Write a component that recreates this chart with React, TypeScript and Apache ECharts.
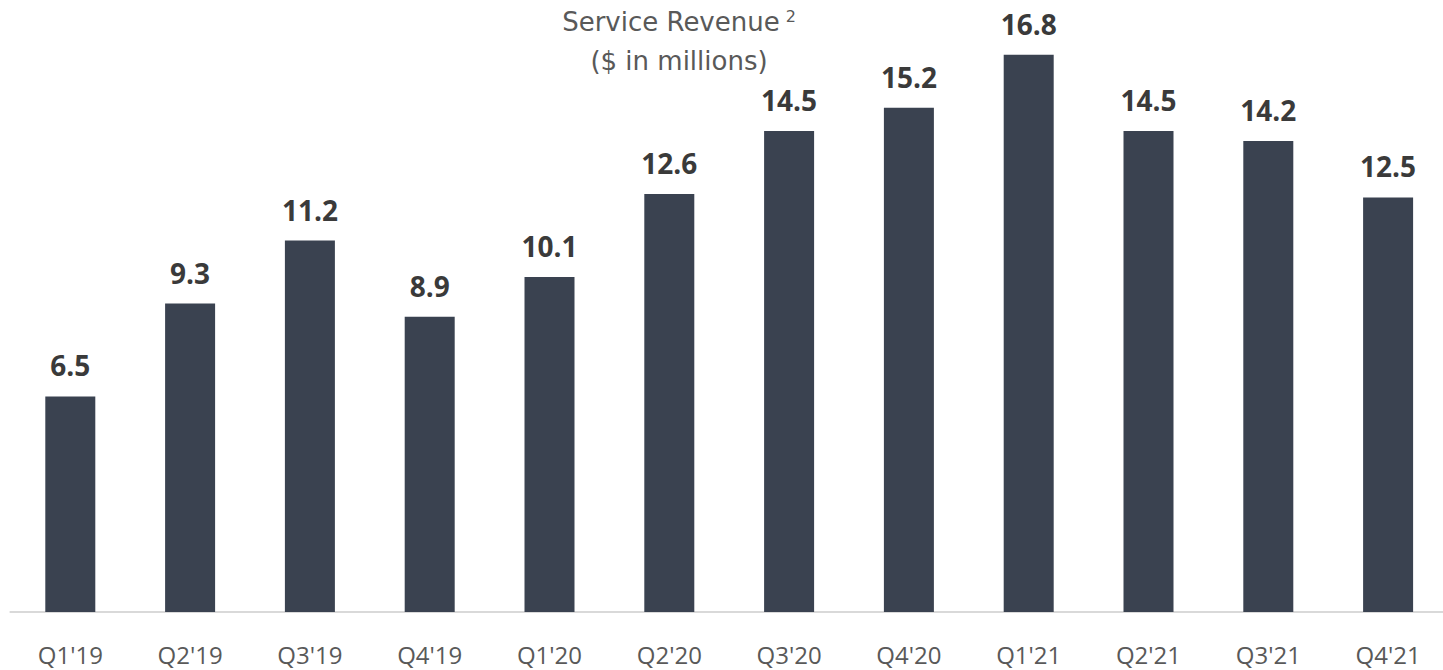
import React, { useEffect, useRef } from "react";
import * as echarts from "echarts";

const categories = ["Q1'19", "Q2'19", "Q3'19", "Q4'19", "Q1'20", "Q2'20", "Q3'20", "Q4'20", "Q1'21", "Q2'21", "Q3'21", "Q4'21"];
const revenue = [6.5, 9.3, 11.2, 8.9, 10.1, 12.6, 14.5, 15.2, 16.8, 14.5, 14.2, 12.5];
const titleMain = "Service Revenue";
const titleNote = "2";
const titleLine2 = "($ in millions)";

export default function App() {
  const ref = useRef<HTMLDivElement>(null);
  useEffect(() => {
    if (!ref.current) return;
    const chart = echarts.init(ref.current, null, { renderer: "svg" });
    chart.setOption({
      animation: false,
      backgroundColor: "#ffffff",
      grid: { left: 10.4, width: 1437.6, top: 15, height: 597, outerBoundsMode: "none", containLabel: false },
      xAxis: {
        type: "category",
        data: categories,
        axisLine: { lineStyle: { color: "#d9d9d9", width: 2 } },
        axisTick: { show: false },
        axisLabel: { color: "#595959", fontSize: 24, fontFamily: "Open Sans", margin: 30 },
      },
      yAxis: { type: "value", min: 0, max: 18, show: false, splitLine: { show: false } },
      graphic: [
        {
          type: "text",
          x: 679,
          y: 22,
          style: {
            text: `{a|${titleMain}}{s|${titleNote}}`,
            textAlign: "center",
            textVerticalAlign: "middle",
            rich: {
              a: { fill: "#595959", fontSize: 26, fontFamily: "DejaVu Sans" },
              s: { fill: "#595959", fontSize: 16, fontFamily: "DejaVu Sans", padding: [0, 0, 12, 6] },
            },
          },
        },
        { type: "text", x: 679, y: 61, style: { text: titleLine2, fill: "#595959", font: "26px 'DejaVu Sans'", textAlign: "center", textVerticalAlign: "middle" } },
      ],
      series: [
        {
          type: "bar",
          data: revenue,
          barWidth: 50,
          itemStyle: { color: "#3a4250" },
          label: {
            show: true,
            position: "top",
            distance: 17,
            color: "#3a3a3a",
            fontSize: 28,
            fontWeight: "bold",
            fontFamily: "Open Sans",
            formatter: (p: any) => p.value.toFixed(1),
          },
        },
      ],
    });
    return () => chart.dispose();
  }, []);
  return <div ref={ref} style={{ position: "absolute", left: 0, top: 0, width: 1443, height: 670 }} />;
}
